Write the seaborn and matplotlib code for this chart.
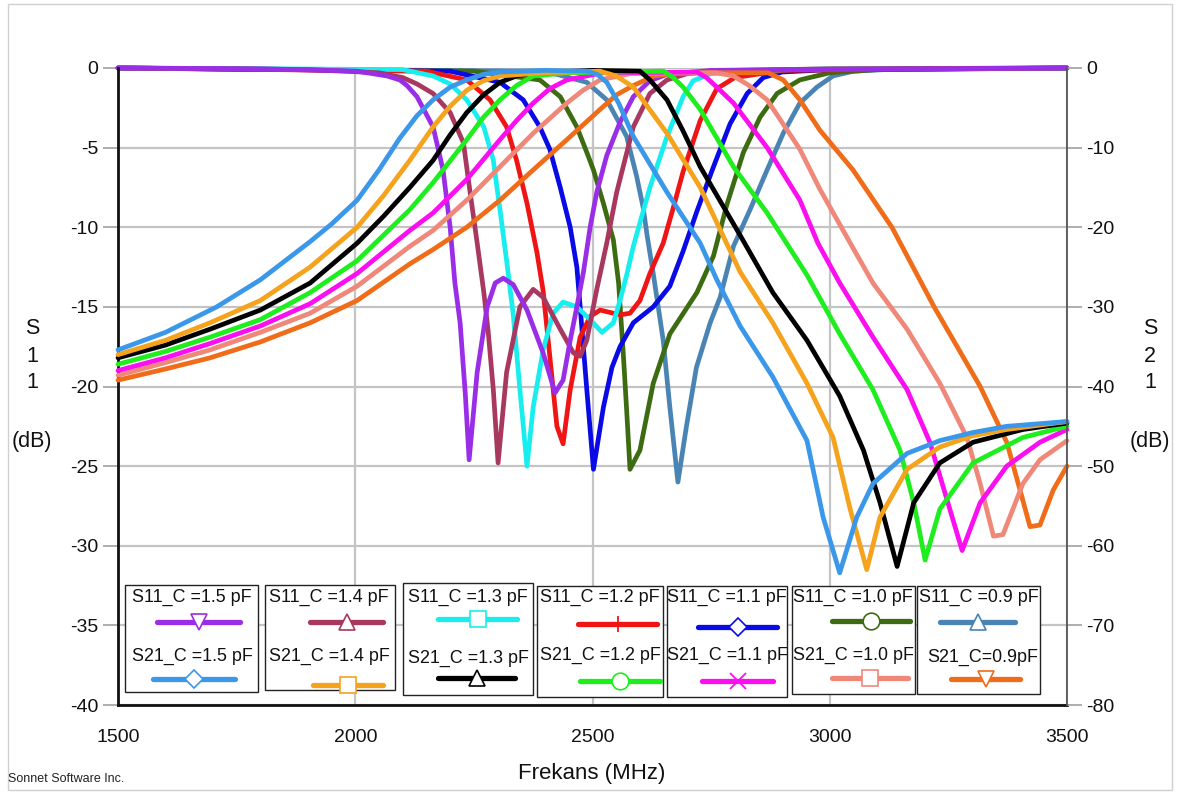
import matplotlib
matplotlib.use("Agg")
import matplotlib.pyplot as plt
from matplotlib.lines import Line2D
from matplotlib.patches import Rectangle
import numpy as np
import pandas as pd
import seaborn as sns

# ---------------------------------------------------------------------------
# Capacitance sweep (pF)
caps = ["1.5", "1.4", "1.3", "1.2", "1.1", "1.0", "0.9"]

# S11 (dB) per capacitance, frequency in MHz
s11_15_f = [1500, 1800, 1950, 2004, 2067, 2094, 2109, 2130, 2164, 2185, 2200, 2210, 2221, 2232, 2240, 2257, 2278, 2295, 2312, 2333, 2362, 2396, 2421, 2438, 2453, 2467, 2481, 2495, 2509, 2530, 2558, 2586, 2621, 2657, 2750, 2900, 3500]
s11_15_db = [0.0, -0.05, -0.15, -0.2, -0.5, -0.75, -1.1, -1.8, -3.7, -6.4, -10.0, -13.5, -16.0, -20.5, -24.6, -19.1, -15.0, -13.5, -13.2, -13.6, -15.2, -17.9, -20.4, -19.6, -17.1, -15.0, -12.8, -10.0, -7.8, -5.5, -3.4, -1.8, -0.8, -0.4, -0.15, -0.1, 0.0]

s11_14_f = [1500, 1900, 2050, 2100, 2130, 2164, 2200, 2228, 2242, 2257, 2271, 2280, 2291, 2301, 2319, 2347, 2375, 2396, 2432, 2460, 2474, 2488, 2509, 2530, 2551, 2586, 2621, 2657, 2700, 2800, 3000, 3500]
s11_14_db = [0.0, -0.1, -0.3, -0.6, -1.0, -1.6, -2.8, -4.7, -7.8, -11.0, -14.1, -16.5, -20.2, -24.8, -19.1, -15.0, -13.9, -14.4, -16.4, -17.9, -18.1, -17.1, -13.9, -11.0, -7.8, -3.7, -1.6, -0.75, -0.35, -0.15, -0.05, 0.0]

s11_13_f = [1500, 2100, 2164, 2200, 2235, 2271, 2291, 2305, 2319, 2333, 2347, 2362, 2375, 2396, 2417, 2438, 2467, 2495, 2520, 2544, 2558, 2572, 2586, 2621, 2657, 2691, 2712, 2750, 2850, 3000, 3500]
s11_13_db = [0.0, -0.1, -0.5, -1.0, -2.0, -3.7, -5.8, -8.9, -12.1, -15.5, -20.2, -25.0, -21.3, -17.7, -15.4, -14.7, -15.0, -15.8, -16.6, -16.0, -14.6, -13.0, -11.2, -7.5, -4.3, -1.8, -0.8, -0.35, -0.15, -0.05, 0.0]

s11_12_f = [1500, 2150, 2235, 2284, 2319, 2340, 2362, 2383, 2396, 2410, 2425, 2438, 2453, 2474, 2495, 2516, 2558, 2579, 2600, 2621, 2649, 2670, 2691, 2727, 2762, 2800, 2900, 3500]
s11_12_db = [0.0, -0.2, -0.75, -2.0, -3.7, -5.8, -8.5, -11.6, -14.0, -18.1, -22.5, -23.6, -20.2, -16.9, -15.6, -15.2, -15.5, -15.4, -14.6, -12.9, -11.0, -8.8, -6.5, -3.3, -1.3, -0.6, -0.15, 0.0]

s11_11_f = [1500, 2200, 2305, 2354, 2389, 2410, 2432, 2453, 2467, 2474, 2488, 2502, 2523, 2541, 2558, 2586, 2628, 2663, 2691, 2720, 2755, 2790, 2826, 2860, 2900, 3000, 3500]
s11_11_db = [0.0, -0.2, -0.9, -2.0, -3.7, -5.1, -7.5, -10.0, -12.5, -15.0, -20.2, -25.2, -21.3, -18.8, -17.5, -16.0, -15.0, -13.7, -11.5, -9.0, -6.2, -3.5, -1.6, -0.6, -0.25, -0.1, 0.0]

s11_10_f = [1500, 2250, 2389, 2432, 2467, 2488, 2502, 2523, 2544, 2555, 2565, 2572, 2579, 2600, 2628, 2663, 2720, 2755, 2783, 2818, 2853, 2889, 2937, 3000, 3100, 3500]
s11_10_db = [0.0, -0.2, -0.75, -1.8, -3.7, -5.3, -6.4, -8.5, -10.8, -13.5, -18.0, -21.5, -25.2, -24.0, -19.8, -16.7, -14.1, -11.8, -8.6, -5.3, -3.1, -1.6, -0.75, -0.3, -0.1, 0.0]

s11_09_f = [1500, 2400, 2488, 2530, 2572, 2593, 2607, 2615, 2628, 2649, 2663, 2680, 2698, 2719, 2748, 2769, 2797, 2832, 2868, 2902, 2937, 2973, 3007, 3050, 3150, 3500]
s11_09_db = [0.0, -0.2, -0.9, -2.0, -4.3, -6.8, -8.8, -10.5, -12.9, -17.1, -21.3, -26.0, -22.5, -18.8, -16.0, -14.4, -11.2, -8.9, -6.4, -4.1, -2.2, -1.2, -0.5, -0.2, -0.05, 0.0]

# S21 (dB) per capacitance, frequency in MHz
s21_15_f = [1500, 1600, 1708, 1800, 1905, 1950, 2004, 2050, 2094, 2130, 2164, 2200, 2235, 2270, 2305, 2400, 2488, 2510, 2530, 2555, 2586, 2657, 2727, 2762, 2811, 2880, 2952, 2986, 3021, 3057, 3091, 3163, 3232, 3300, 3373, 3500]
s21_15_db = [-35.4, -33.2, -30.0, -26.6, -21.8, -19.6, -16.6, -12.8, -8.8, -6.0, -4.0, -2.4, -1.5, -0.8, -0.5, -0.3, -0.4, -0.8, -1.8, -4.4, -8.6, -15.6, -22.0, -26.6, -32.4, -38.8, -46.8, -56.4, -63.4, -56.4, -52.2, -48.4, -46.8, -45.8, -45.0, -44.4]

s21_14_f = [1500, 1600, 1694, 1800, 1905, 2004, 2060, 2115, 2164, 2200, 2235, 2270, 2305, 2400, 2516, 2550, 2586, 2657, 2727, 2811, 2880, 2952, 3007, 3043, 3078, 3106, 3163, 3232, 3300, 3373, 3500]
s21_14_db = [-36.0, -34.2, -32.0, -29.2, -25.0, -20.0, -16.0, -11.6, -7.4, -4.8, -2.8, -1.6, -1.0, -0.6, -0.4, -1.0, -2.4, -8.2, -15.0, -25.6, -32.0, -39.6, -46.4, -55.4, -63.0, -56.4, -50.4, -47.6, -46.2, -45.4, -44.4]

s21_13_f = [1500, 1600, 1694, 1800, 1905, 2004, 2060, 2115, 2164, 2200, 2235, 2270, 2305, 2340, 2375, 2500, 2600, 2621, 2657, 2690, 2727, 2811, 2880, 2952, 3021, 3071, 3106, 3142, 3177, 3232, 3302, 3407, 3500]
s21_13_db = [-36.4, -34.8, -32.8, -30.4, -27.0, -22.0, -18.6, -15.0, -11.6, -8.4, -5.6, -3.4, -1.8, -1.0, -0.6, -0.3, -0.4, -1.5, -4.0, -7.8, -12.4, -21.0, -28.2, -34.2, -41.2, -48.0, -54.6, -62.6, -54.6, -49.6, -47.0, -45.4, -44.6]

s21_12_f = [1500, 1600, 1694, 1800, 1905, 2004, 2115, 2164, 2235, 2270, 2305, 2340, 2375, 2450, 2650, 2670, 2691, 2727, 2797, 2868, 2952, 3021, 3091, 3148, 3177, 3201, 3232, 3302, 3407, 3500]
s21_12_db = [-37.2, -35.6, -33.8, -31.6, -28.2, -24.2, -17.8, -14.4, -9.0, -6.2, -4.0, -2.2, -1.0, -0.6, -0.4, -1.2, -2.4, -5.2, -12.4, -18.2, -26.0, -33.4, -40.4, -48.0, -54.6, -61.8, -55.4, -49.6, -46.4, -45.0]

s21_11_f = [1500, 1600, 1694, 1800, 1905, 2004, 2115, 2164, 2235, 2305, 2340, 2375, 2410, 2446, 2520, 2720, 2740, 2762, 2797, 2868, 2937, 2975, 3021, 3091, 3163, 3211, 3247, 3279, 3317, 3373, 3443, 3500]
s21_11_db = [-38.0, -36.4, -34.6, -32.4, -29.6, -25.8, -20.4, -18.2, -14.0, -9.0, -6.6, -4.4, -2.6, -1.5, -0.6, -0.5, -1.2, -2.4, -4.4, -10.0, -16.6, -22.0, -27.0, -33.8, -40.4, -47.0, -54.2, -60.6, -54.6, -50.0, -47.0, -45.4]

s21_10_f = [1500, 1600, 1694, 1800, 1905, 2004, 2115, 2164, 2235, 2305, 2375, 2446, 2480, 2516, 2580, 2760, 2797, 2830, 2868, 2937, 2979, 3049, 3091, 3163, 3232, 3289, 3317, 3345, 3365, 3407, 3443, 3500]
s21_10_db = [-38.6, -37.0, -35.4, -33.2, -30.8, -27.4, -22.4, -20.4, -16.6, -12.4, -8.2, -4.4, -2.8, -1.5, -0.7, -0.6, -1.0, -2.2, -4.0, -10.2, -15.2, -22.6, -27.0, -32.8, -39.6, -46.4, -52.2, -58.8, -58.6, -52.2, -49.2, -46.8]

s21_09_f = [1500, 1600, 1694, 1800, 1905, 2004, 2115, 2164, 2235, 2305, 2375, 2446, 2516, 2550, 2586, 2630, 2680, 2870, 2902, 2937, 2979, 3049, 3131, 3220, 3317, 3373, 3401, 3422, 3443, 3471, 3500]
s21_09_db = [-39.2, -37.8, -36.4, -34.4, -32.0, -29.2, -24.6, -22.8, -20.0, -16.6, -12.8, -9.0, -5.2, -3.4, -2.2, -1.0, -0.6, -0.6, -1.5, -4.0, -7.8, -12.8, -20.0, -30.0, -40.0, -47.0, -53.0, -57.6, -57.4, -53.0, -50.0]

s11_series = [(s11_15_f, s11_15_db), (s11_14_f, s11_14_db), (s11_13_f, s11_13_db),
              (s11_12_f, s11_12_db), (s11_11_f, s11_11_db), (s11_10_f, s11_10_db),
              (s11_09_f, s11_09_db)]
s21_series = [(s21_15_f, s21_15_db), (s21_14_f, s21_14_db), (s21_13_f, s21_13_db),
              (s21_12_f, s21_12_db), (s21_11_f, s21_11_db), (s21_10_f, s21_10_db),
              (s21_09_f, s21_09_db)]

# Trace names as they appear in the legend
s11_names = ["S11_C =1.5 pF", "S11_C =1.4 pF", "S11_C =1.3 pF", "S11_C =1.2 pF",
             "S11_C =1.1 pF", "S11_C =1.0 pF", "S11_C =0.9 pF"]
s21_names = ["S21_C =1.5 pF", "S21_C =1.4 pF", "S21_C =1.3 pF", "S21_C =1.2 pF",
             "S21_C =1.1 pF", "S21_C =1.0 pF", "S21_C=0.9pF"]

x_ticks = [1500, 2000, 2500, 3000, 3500]
s11_ticks = [0, -5, -10, -15, -20, -25, -30, -35, -40]
s21_ticks = [0, -10, -20, -30, -40, -50, -60, -70, -80]

# ---------------------------------------------------------------------------
# Styling
s11_colors = ["#9a2ee6", "#a8385f", "#18eeee", "#f01414", "#0a0ae6", "#3d6b12", "#4a84b4"]
s21_colors = ["#3a97ea", "#f5a21c", "#000000", "#1eee1e", "#fb0ff0", "#f0887a", "#f06c18"]
s11_markers = ["v", "^", "s", "|", "D", "o", "^"]
s21_markers = ["D", "s", "^", "o", "x", "s", "v"]

sns.set_style("white")
plt.rcParams["font.family"] = ["Liberation Sans", "DejaVu Sans"]
plt.rcParams["axes.unicode_minus"] = False

W, H = 1179, 796
fig = plt.figure(figsize=(W / 100, H / 100), dpi=100)
fig.patch.set_facecolor("white")


def fx(x):
    return x / W


def fy(y):
    return 1 - y / H


ax = fig.add_axes([fx(118), fy(705), fx(1067) - fx(118), fy(68) - fy(705)])
ax2 = ax.twinx()

# long-form tables
s11_df = pd.concat([pd.DataFrame({"freq": f, "db": d, "trace": n})
                    for (f, d), n in zip(s11_series, s11_names)], ignore_index=True)
s21_df = pd.concat([pd.DataFrame({"freq": f, "db": d, "trace": n})
                    for (f, d), n in zip(s21_series, s21_names)], ignore_index=True)

lw = 3.4
# draw reverse order so the 1.5 pF traces end up on top
for name, col in list(zip(s11_names, s11_colors))[::-1]:
    sns.lineplot(data=s11_df[s11_df["trace"] == name], x="freq", y="db",
                 color=col, linewidth=lw, ax=ax, legend=False, sort=False,
                 estimator=None)
for name, col in list(zip(s21_names, s21_colors))[::-1]:
    sns.lineplot(data=s21_df[s21_df["trace"] == name], x="freq", y="db",
                 color=col, linewidth=lw, ax=ax2, legend=False, sort=False,
                 estimator=None)
for ln in ax.lines + ax2.lines:
    ln.set_solid_joinstyle("round")
    ln.set_clip_on(False)

for a in (ax, ax2):
    a.set_xlim(1500, 3500)
    a.set_xlabel("")
    a.set_ylabel("")
ax.set_ylim(-40, 0)
ax2.set_ylim(-80, 0)

ax.set_xticks(x_ticks)
ax.set_xticklabels([str(t) for t in x_ticks])
ax.set_yticks(s11_ticks)
ax.set_yticklabels([str(t) for t in s11_ticks])
ax2.set_yticks(s21_ticks)
ax2.set_yticklabels([str(t) for t in s21_ticks])

ax.grid(True, color="#c4c4c4", linewidth=1.6)
ax2.grid(False)
ax.set_axisbelow(True)

tick_kw = dict(length=11, width=1.3, color="#a8a8a8", labelcolor="#111111",
               labelsize=14, direction="out")
ax.tick_params(axis="both", pad=3, **tick_kw)
ax2.tick_params(axis="y", pad=3, **tick_kw)
ax.tick_params(axis="x", pad=6)

for a in (ax, ax2):
    for s in a.spines.values():
        s.set_visible(False)
ax.spines["left"].set_visible(True)
ax.spines["left"].set_color("#111111")
ax.spines["left"].set_linewidth(2.0)
ax.spines["bottom"].set_visible(True)
ax.spines["bottom"].set_color("#111111")
ax.spines["bottom"].set_linewidth(2.0)
ax2.spines["right"].set_visible(True)
ax2.spines["right"].set_color("#555555")
ax2.spines["right"].set_linewidth(1.3)

# vertical axis titles
for x0, chars in ((32, ["S", "1", "1"]), (1150, ["S", "2", "1"])):
    for ch, yy in zip(chars, (329, 356, 383)):
        fig.text(fx(x0), fy(yy), ch, ha="center", va="center", fontsize=15.5, color="#111111")
    fig.text(fx(x0), fy(441), "(dB)", ha="center", va="center", fontsize=15.5, color="#111111")

fig.text(fx(592), fy(773), "Frekans (MHz)", ha="center", va="center", fontsize=16, color="#111111")
fig.text(fx(8), fy(779), "Sonnet Software Inc.", ha="left", va="center", fontsize=9, color="#222222")

# outer frame of the plot window
fig.add_artist(Rectangle((fx(8), fy(790)), fx(1172) - fx(8), fy(4) - fy(790),
                         transform=fig.transFigure, fill=False, edgecolor="#d0d0d0",
                         linewidth=1.0))

# legend panels: one box per capacitance holding the S11 and S21 entries
boxes = [(125, 585, 258, 692), (265, 585, 395, 690), (403, 583, 533, 695),
         (537, 586, 663, 697), (667, 586, 787, 697), (792, 586, 915, 694),
         (917, 586, 1040, 694)]
s11_rows = [(192, 597, 157, 240, 622), (329, 597, 310, 383, 622), (468, 597, 438, 517, 619),
            (600, 597, 578, 657, 624), (727, 597, 698, 777, 627), (853, 597, 832, 910, 621),
            (979, 597, 940, 1015, 622)]
s21_rows = [(192, 656, 153, 235, 679), (329, 656, 313, 383, 685), (468, 658, 438, 515, 678),
            (600, 655, 580, 660, 681), (727, 655, 702, 773, 681), (853, 655, 832, 908, 678),
            (983, 657, 951, 1020, 679)]

for i in range(len(caps)):
    x0, y0, x1, y1 = boxes[i]
    fig.add_artist(Rectangle((fx(x0), fy(y1)), fx(x1) - fx(x0), fy(y0) - fy(y1),
                             transform=fig.transFigure, facecolor="white",
                             edgecolor="#222222", linewidth=1.0, zorder=5))
    for rows, names, cols, mks in ((s11_rows, s11_names, s11_colors, s11_markers),
                                   (s21_rows, s21_names, s21_colors, s21_markers)):
        tx, ty, lx0, lx1, ly = rows[i]
        fig.text(fx(tx), fy(ty), names[i], ha="center", va="center", fontsize=12.9,
                 color="#111111", zorder=6)
        fig.add_artist(Line2D([fx(lx0), fx(lx1)], [fy(ly), fy(ly)], transform=fig.transFigure,
                              color=cols[i], linewidth=3.8, solid_capstyle="round", zorder=6))
        mk = mks[i]
        xm = (lx0 + lx1) / 2
        if mk in ("|", "x"):
            fig.add_artist(Line2D([fx(xm)], [fy(ly)], transform=fig.transFigure, marker=mk,
                                  markersize=12, markeredgewidth=1.3, color=cols[i],
                                  linestyle="none", zorder=7))
        else:
            fig.add_artist(Line2D([fx(xm)], [fy(ly)], transform=fig.transFigure, marker=mk,
                                  markersize=12 if mk != "D" else 9,
                                  markerfacecolor="white", markeredgecolor=cols[i],
                                  markeredgewidth=1.2, linestyle="none", zorder=7))

fig.savefig("out.png", dpi=100, facecolor="white")
